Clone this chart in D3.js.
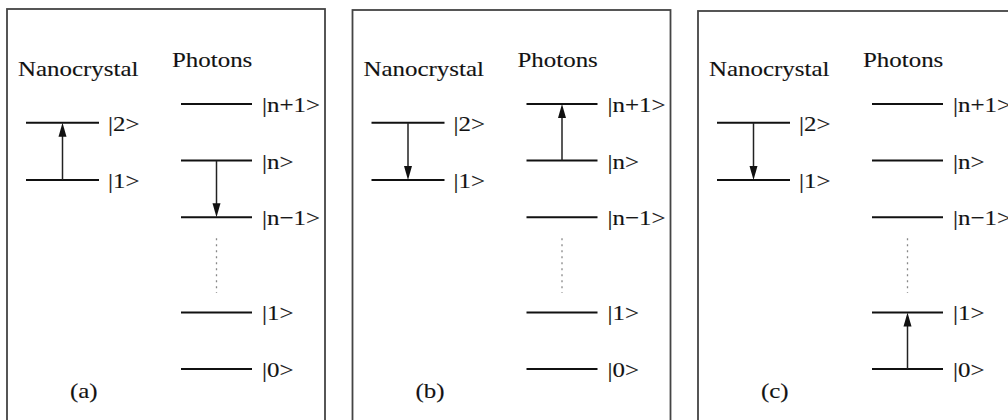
<!DOCTYPE html>
<html>
<head>
<meta charset="utf-8">
<script src="https://cdn.jsdelivr.net/npm/d3@7"></script>
<style>
  html, body { margin: 0; padding: 0; background: #fff; }
  svg { display: block; }
  text { font-family: "Liberation Serif", "DejaVu Serif", serif; fill: #111; stroke: #333; stroke-width: 0.15; }
</style>
</head>
<body>
<script>
// panel captions
var panels = ["(a)", "(b)", "(c)"];

// energy levels, in units of the photon spacing
var nanoLevels = [
  {label: "|1>", e: 3.34},
  {label: "|2>", e: 4.35}
];
var photonLevels = [
  {label: "|0>", e: 0},
  {label: "|1>", e: 1},
  {label: "|n\u22121>", e: 2.68},
  {label: "|n>", e: 3.68},
  {label: "|n+1>", e: 4.68}
];
// the gap between |1> and |n-1>
var ellipsis = [1.34, 2.31];

// transitions, one per panel: [from, to]
var nanoArrows = [["|1>", "|2>"], ["|2>", "|1>"], ["|2>", "|1>"]];
var photonArrows = [["|n>", "|n\u22121>"], ["|n>", "|n+1>"], ["|0>", "|1>"]];

var width = 1008,
    height = 420;

var panelX = d3.scalePoint()
    .domain(panels)
    .range([0, 691]);

var y = d3.scaleLinear()
    .domain([0, 4.68])
    .range([369, 104]);

// local x positions inside one panel
var box = {x0: 7, x1: 325, top: 9};
var nanoX = d3.scaleLinear().domain([0, 1]).range([26, 99]);
var photonX = d3.scaleLinear().domain([0, 1]).range([181, 252]);

var sx = 1.16, fontSize = 21.5;

var svg = d3.select("body").append("svg")
    .attr("width", width)
    .attr("height", height);

function label(g, x, yy, txt) {
  g.append("text")
      .attr("transform", "translate(" + x + "," + yy + ") scale(" + sx + ",1)")
      .attr("font-size", fontSize)
      .text(txt);
}

function arrow(g, x, y0, y1) {
  var dir = y1 < y0 ? 1 : -1,   // 1 = pointing up
      head = 14, half = 4;
  g.append("line")
      .attr("x1", x).attr("x2", x)
      .attr("y1", y0).attr("y2", y1 + dir * head * 0.8)
      .attr("stroke", "#222")
      .attr("stroke-width", 1.5);
  g.append("path")
      .attr("d", d3.line()([[x, y1], [x - half, y1 + dir * head], [x + half, y1 + dir * head]]) + "Z")
      .attr("fill", "#111");
}

panels.forEach(function(p, i) {
  var g = svg.append("g")
      .attr("transform", "translate(" + panelX(p) + ",0)");

  g.append("rect")
      .attr("x", box.x0)
      .attr("y", box.top + i)
      .attr("width", box.x1 - box.x0)
      .attr("height", 500)
      .attr("fill", "none")
      .attr("stroke", "#444")
      .attr("stroke-width", 1.8);

  label(g, 18, 76, "Nanocrystal");
  label(g, 172, 67, "Photons");
  label(g, 70, 398, p);

  nanoLevels.forEach(function(d) {
    g.append("line")
        .attr("x1", nanoX(0)).attr("x2", nanoX(1))
        .attr("y1", y(d.e)).attr("y2", y(d.e))
        .attr("stroke", "#111")
        .attr("stroke-width", 2);
    label(g, nanoX(1) + 9, y(d.e) + 8, d.label);
  });

  photonLevels.forEach(function(d) {
    g.append("line")
        .attr("x1", photonX(0)).attr("x2", photonX(1))
        .attr("y1", y(d.e)).attr("y2", y(d.e))
        .attr("stroke", "#111")
        .attr("stroke-width", 2);
    label(g, photonX(1) + 10, y(d.e) + 8, d.label);
  });

  g.append("line")
      .attr("x1", photonX(0.5)).attr("x2", photonX(0.5))
      .attr("y1", y(ellipsis[1])).attr("y2", y(ellipsis[0]))
      .attr("stroke", "#888")
      .attr("stroke-width", 1.3)
      .attr("stroke-dasharray", "2,4");

  var find = function(arr, l) { return arr.find(function(d) { return d.label === l; }).e; };

  var na = nanoArrows[i];
  arrow(g, nanoX(0.5), y(find(nanoLevels, na[0])), y(find(nanoLevels, na[1])));
  var pa = photonArrows[i];
  arrow(g, photonX(0.5), y(find(photonLevels, pa[0])), y(find(photonLevels, pa[1])));
});
</script>
</body>
</html>
